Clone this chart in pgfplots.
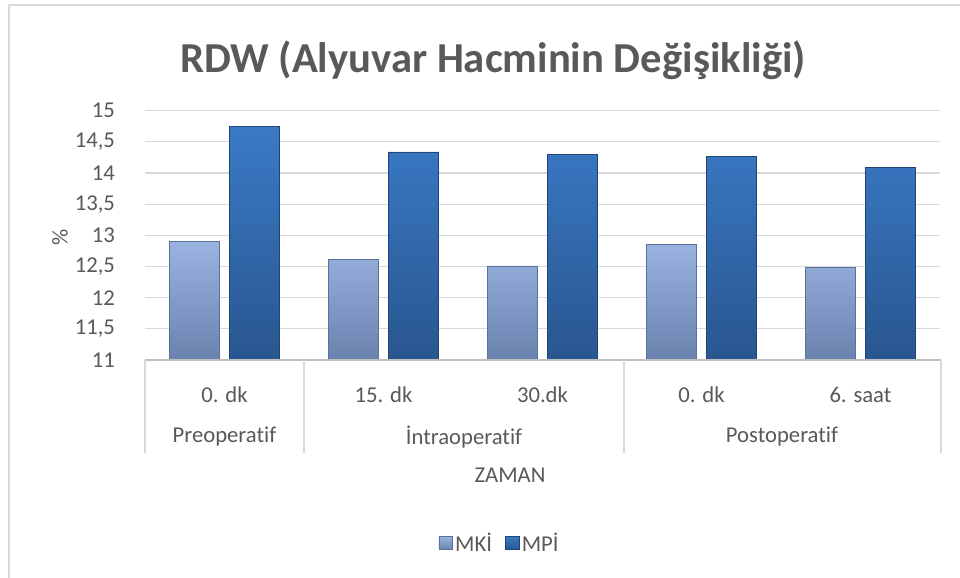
\documentclass[border=0pt]{standalone}
\usepackage{fontspec}
\setmainfont{Carlito}[Ligatures=NoCommon]
\usepackage{pgfplots}
\pgfplotsset{compat=1.18}
\definecolor{txt}{HTML}{595959}
\definecolor{gridc}{HTML}{D9D9D9}
\definecolor{axc}{HTML}{BFBFBF}
\definecolor{mkiT}{HTML}{9AB3E0}
\definecolor{mkiB}{HTML}{6A82AE}
\definecolor{mkiD}{HTML}{5A719A}
\definecolor{mpiT}{HTML}{3A7AC6}
\definecolor{mpiB}{HTML}{29568F}
\definecolor{mpiD}{HTML}{1F4577}
\newcommand\lf{\fontsize{17}{20}\selectfont}
\begin{document}
\begin{tikzpicture}
\begin{scope}[x=0.75pt,y=0.75pt]
\useasboundingbox (0,0) rectangle (960,578);
\draw[gridc, line width=1.5pt] (9,0) -- (9,573) -- (960,573);
\end{scope}
\begin{axis}[
  at={(108.75pt,163.5pt)}, anchor=south west,
  scale only axis, width=596.25pt, height=187pt,
  xmin=-0.5, xmax=4.5, ymin=11, ymax=15,
  ytick={11,11.5,12,12.5,13,13.5,14,14.5,15},
  yticklabels={11,{11,5},12,{12,5},13,{13,5},14,{14,5},15},
  xtick={0,1,2,3,4},
  xticklabels={0. dk,15. dk,30.dk,0. dk,6. saat},
  major tick length=0pt,
  axis line style={draw=none},
  ymajorgrids, grid style={gridc, line width=0.9pt},
  tick label style={font=\lf, text=txt},
  yticklabel style={font=\lf, text=txt, anchor=east, xshift=-19pt},
  xticklabel style={font=\lf, text=txt, anchor=center, yshift=-26pt},
  legend style={at={(0.4465,-0.734)}, anchor=center, draw=none, fill=none,
    legend columns=2, font=\lf, text=txt,
    /tikz/every even column/.append style={column sep=8pt}},
  legend image code/.code={\draw[#1] (0pt,-5pt) rectangle (10pt,5pt);},
]
\addplot[ybar, bar width=0.315, bar shift=-0.19, top color=mkiT, bottom color=mkiB, draw=mkiD]
  coordinates {(0,12.9) (1,12.61) (2,12.51) (3,12.86) (4,12.49)};
\addlegendentry{MKİ}
\addplot[ybar, bar width=0.315, bar shift=0.19, top color=mpiT, bottom color=mpiB, draw=mpiD]
  coordinates {(0,14.75) (1,14.34) (2,14.30) (3,14.27) (4,14.09)};
\addlegendentry{MPİ}
\end{axis}
\begin{scope}[x=0.75pt,y=0.75pt]
\draw[axc, line width=0.9pt] (145,218) -- (941,218);
\foreach \xx in {145,304,624,941} \draw[gridc, line width=0.9pt] (\xx,218) -- (\xx,125);
\node[text=txt, font=\lf] at (224.5,141) {Preoperatif};
\node[text=txt, font=\lf] at (464,141) {İntraoperatif};
\node[text=txt, font=\lf] at (782,141) {Postoperatif};
\node[text=txt, font=\lf] at (510,103) {ZAMAN};
\node[text=txt, font=\lf, rotate=90] at (60,341) {\%};
\node[text=txt, font=\bfseries\fontsize{32}{38}\selectfont] at (493,518) {RDW (Alyuvar Hacminin Değişikliği)};
\end{scope}
\end{tikzpicture}
\end{document}
